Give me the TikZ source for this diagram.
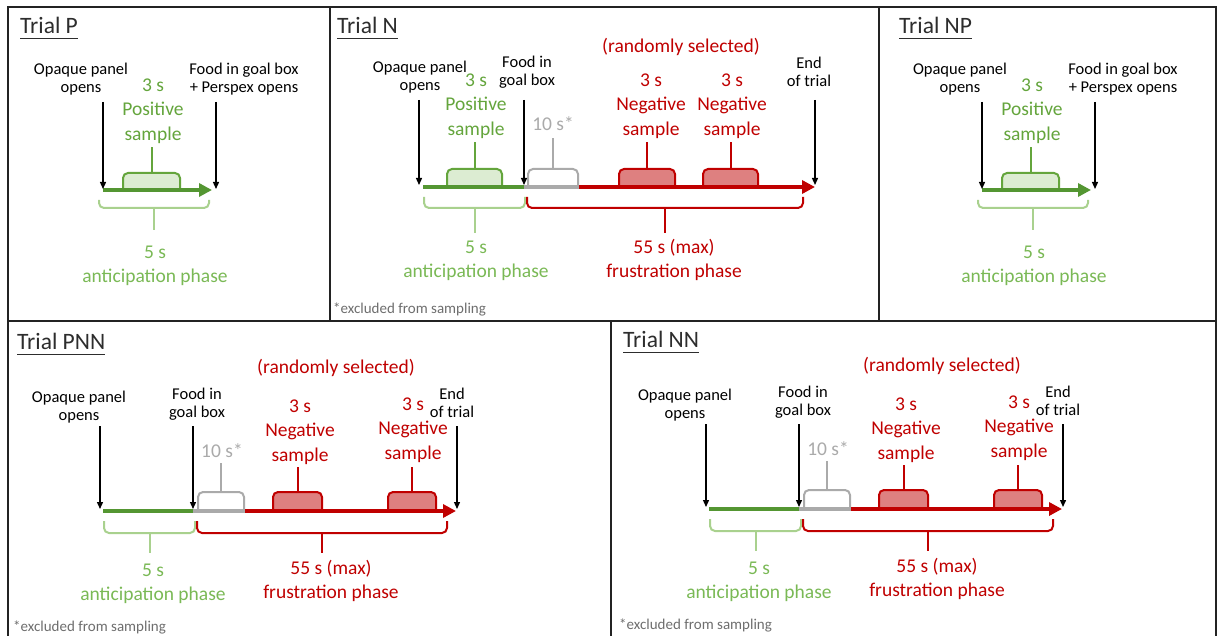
\documentclass[tikz,border=0pt]{standalone}
\usepackage{fontspec}
\setmainfont{Carlito}
\usetikzlibrary{arrows.meta}
\definecolor{cGreenT}{RGB}{100,165,60}
\definecolor{cAntT}{RGB}{122,185,85}
\definecolor{cTL}{RGB}{84,150,50}
\definecolor{cAnt}{RGB}{169,209,142}
\definecolor{cPosFill}{RGB}{220,236,210}
\definecolor{cRed}{RGB}{192,0,0}
\definecolor{cRedFill}{RGB}{222,128,128}
\definecolor{cGrey}{RGB}{170,170,170}
\definecolor{cNote}{RGB}{110,110,110}
\definecolor{cTitle}{RGB}{45,45,45}
\definecolor{cFrame}{RGB}{35,35,35}
\tikzset{
  frame/.style={draw=cFrame, line width=2pt},
  lbl/.style={font=\fontsize{16.5}{18}\selectfont, align=center, inner sep=0pt, text=black},
  gtx/.style={font=\fontsize{19.5}{24.5}\selectfont, align=center, inner sep=0pt, text=cGreenT},
  atx/.style={gtx, text=cAntT},
  rtx/.style={gtx, text=cRed},
  gytx/.style={gtx, text=cGrey},
  ttl/.style={font=\fontsize{23.5}{26}\selectfont, inner sep=0pt, anchor=base west, text=cTitle},
  ulin/.style={draw=cTitle, line width=1.4pt},
  fnote/.style={font=\fontsize{15}{18}\selectfont, inner sep=0pt, anchor=west, text=cNote},
  evt/.style={draw=black, line width=1.3pt, -{Triangle[length=7pt,width=6pt]}},
  tlG/.style={draw=cTL, line width=4.5pt},
  tlGy/.style={draw=cGrey, line width=4.5pt},
  tlR/.style={draw=cRed, line width=4.5pt},
  tip/.style={-{Triangle[length=13pt,width=13pt]}},
  posbr/.style={draw=cGreenT, fill=cPosFill, line width=2pt},
  antbr/.style={draw=cAnt, line width=2pt},
  greybr/.style={draw=cGrey, fill=white, line width=2pt},
  negbr/.style={draw=cRed, fill=cRedFill, line width=2pt},
  frbr/.style={draw=cRed, line width=2pt}
}
% bracket above the timeline: style, x1, x2, ybase, ytop, ystem
\newcommand\brUp[6]{%
  \path[#1,rounded corners=5pt] (#2,#4) -- (#2,#5) -- (#3,#5) -- (#3,#4);
  \draw[#1] ({(#2+#3)/2},#5) -- ({(#2+#3)/2},#6);}
% bracket below the timeline: style, x1, x2, ytop, ybot, ystem
\newcommand\brDown[6]{%
  \draw[#1,rounded corners=5pt] (#2,#4) -- (#2,#5) -- (#3,#5) -- (#3,#4);
  \draw[#1] ({(#2+#3)/2},#5) -- ({(#2+#3)/2},#6);}
\newcommand\trialtitle[3]{%
  \node[ttl] (title) at (#1,#2) {#3};
  \draw[ulin] ([yshift=-5pt]title.base west) -- ([yshift=-5pt]title.base east);}
% panel of type P / NP
\newcommand\panelP[1]{%
  \trialtitle{20}{33.5}{#1}
  \node[lbl] (op) at (81,79) {Opaque panel\\opens};
  \node[lbl] (food) at (244,79) {Food in goal box\\+ Perspex opens};
  \node[gtx] (pos) at (153,111) {3 s\\Positive\\sample};
  \node[atx] (ant) at (155,266) {5 s\\anticipation phase};
  \coordinate (opA) at (103,102); \coordinate (opB) at (103,189);
  \coordinate (fdA) at (216,102); \coordinate (fdB) at (216,189);
  \coordinate (t0) at (103,190); \coordinate (t1) at (212,190);
  \brUp{posbr}{123}{180}{190}{173}{147}
  \draw[tlG, tip] (t0) -- (t1);
  \brDown{antbr}{99}{209}{200}{208}{230}
  \draw[evt] (opA) -- (opB);
  \draw[evt] (fdA) -- (fdB);}
% panel of type PNN / NN
\newcommand\panelPNN[1]{%
  \trialtitle{17}{349.5}{#1}
  \node[rtx] (rand) at (336,368) {(randomly selected)};
  \node[lbl] (op) at (79,407) {Opaque panel\\opens};
  \node[lbl] (food) at (197,404) {Food in\\goal box};
  \node[gytx] (ex) at (222,451) {10 s*};
  \node[rtx] (neg1) at (300,432) {3 s\\Negative\\sample};
  \node[rtx] (neg2) at (413,430) {3 s\\Negative\\sample};
  \node[lbl] (end) at (452,402.5) {End\\of trial};
  \node[atx] (ant) at (153,584) {5 s\\anticipation phase};
  \node[rtx] (fr) at (331,581) {55 s (max)\\frustration phase};
  \node[fnote] (fn) at (13,627) {*excluded from sampling};
  \coordinate (g0) at (103,511); \coordinate (g1) at (193,511);
  \coordinate (gy1) at (245,511); \coordinate (rEnd) at (456,511);
  \coordinate (opA) at (100,426); \coordinate (opB) at (100,509);
  \coordinate (fdA) at (193,426); \coordinate (fdB) at (193,509);
  \coordinate (enA) at (457,426); \coordinate (enB) at (457,509);
  \brUp{greybr}{198}{244}{511}{492}{463}
  \brUp{negbr}{273}{322}{511}{492}{467}
  \brUp{negbr}{388}{436}{511}{492}{467}
  \draw[tlG] (g0) -- (g1);
  \draw[tlGy] (g1) -- (gy1);
  \draw[tlR, tip] (gy1) -- (rEnd);
  \brDown{antbr}{104}{195}{521}{533}{553}
  \brDown{frbr}{197}{447}{521}{533}{553}
  \draw[evt] (opA) -- (opB);
  \draw[evt] (fdA) -- (fdB);
  \draw[evt] (enA) -- (enB);}
\begin{document}
\begin{tikzpicture}[x=1pt,y=-1pt]
\useasboundingbox[fill=white] (0,0) rectangle (1222,636);
% panel frames
\draw[frame] (8,640) -- (8,7) -- (1216,7) -- (1216,640);
\draw[frame] (8,321) -- (1216,321);
\draw[frame] (330,7) -- (330,321);
\draw[frame] (879,7) -- (879,321);
\draw[frame] (611,321) -- (611,640);
% Trial P and Trial NP
\begin{scope}[name prefix=P-]
  \panelP{Trial P}
\end{scope}
\begin{scope}[shift={(879,0)}, name prefix=NP-]
  \panelP{Trial NP}
\end{scope}
% Trial N
\begin{scope}[name prefix=N-]
  \trialtitle{337}{33.5}{Trial N}
  \node[rtx] (rand) at (681,47) {(randomly selected)};
  \node[lbl] (op) at (420,77) {Opaque panel\\opens};
  \node[gtx] (pos) at (476,106) {3 s\\Positive\\sample};
  \node[lbl] (food) at (527,72) {Food in\\goal box};
  \node[gytx] (ex) at (553,124) {10 s*};
  \node[rtx] (neg1) at (651,106) {3 s\\Negative\\sample};
  \node[rtx] (neg2) at (732,106) {3 s\\Negative\\sample};
  \node[lbl] (end) at (809,72) {End\\of trial};
  \node[atx] (ant) at (476,261) {5 s\\anticipation phase};
  \node[rtx] (fr) at (674,260) {55 s (max)\\frustration phase};
  \node[fnote] (fn) at (333,309) {*excluded from sampling};
  \coordinate (g0) at (423,187); \coordinate (g1) at (524,187);
  \coordinate (gy1) at (579,187); \coordinate (rEnd) at (815,187);
  \coordinate (opA) at (419,100); \coordinate (opB) at (419,185);
  \coordinate (fdA) at (524,100); \coordinate (fdB) at (524,185);
  \coordinate (enA) at (815,100); \coordinate (enB) at (815,185);
  \brUp{posbr}{447}{502}{187}{169}{142}
  \brUp{greybr}{528}{578}{187}{169}{138}
  \brUp{negbr}{619}{675}{187}{169}{142}
  \brUp{negbr}{703}{758}{187}{169}{142}
  \draw[tlG] (g0) -- (g1);
  \draw[tlGy] (g1) -- (gy1);
  \draw[tlR, tip] (gy1) -- (rEnd);
  \brDown{antbr}{424}{525}{197}{208}{233}
  \brDown{frbr}{527}{803}{197}{208}{233}
  \draw[evt] (opA) -- (opB);
  \draw[evt] (fdA) -- (fdB);
  \draw[evt] (enA) -- (enB);
\end{scope}
% Trial PNN and Trial NN
\begin{scope}[name prefix=PNN-]
  \panelPNN{Trial PNN}
\end{scope}
\begin{scope}[shift={(606,-2)}, name prefix=NN-]
  \panelPNN{Trial NN}
\end{scope}
\end{tikzpicture}
\end{document}
